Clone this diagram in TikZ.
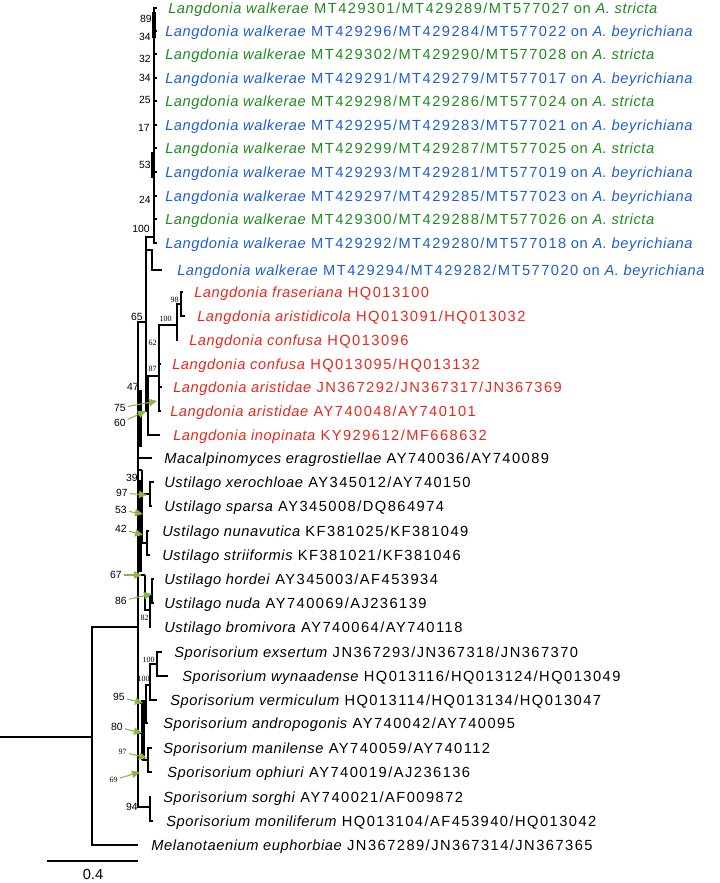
\documentclass[tikz,border=0pt]{standalone}
\usepackage{fontspec}
\setmainfont{Liberation Sans}
\newfontfamily\leaffont{Liberation Sans}[LetterSpace=4]
\newfontfamily\accfont{Liberation Sans}[LetterSpace=10]
\newfontfamily\bootserif{Liberation Serif}
\usetikzlibrary{arrows.meta}
\definecolor{hostgreen}{HTML}{1F8A1F}
\definecolor{hostblue}{HTML}{1F5ED2}
\definecolor{langred}{HTML}{E8281E}
\definecolor{bootgreen}{HTML}{8CB545}
\newcommand{\acc}[1]{{\accfont #1}}
\newcommand{\walk}[2]{\textit{Langdonia walkerae} \acc{#1} on \textit{A. #2}}
\newcommand{\taxon}[2]{\textit{#1} \acc{#2}}
\tikzset{
  branch/.style={line width=1.8pt},
  fatbranch/.style={line width=3.2pt},
  leaf/.style={anchor=west,inner sep=0pt,text height=7.9pt,text depth=0pt,font=\leaffont\fontsize{11}{13}\selectfont},
  bsans/.style={anchor=east,inner sep=0pt,font=\fontsize{7.8}{8}\selectfont},
  bserif/.style={anchor=east,inner sep=0pt,font=\bootserif\fontsize{6}{6}\selectfont},
  bootarrow/.style={bootgreen,line width=0.8pt,shorten <=1.5pt,-{Triangle[length=6pt,width=5.5pt]}},
}

\begin{document}
\begin{tikzpicture}[x=0.75pt,y=-0.75pt]
  \useasboundingbox (0,0) rectangle (720,883);

  % internal nodes
  \coordinate (base) at (0,737);
  \coordinate (root) at (92,737);
  \coordinate (ing) at (138,627);
  \coordinate (n65) at (146,322);
  \coordinate (w100) at (154,237);
  \coordinate (w12k) at (152,250);
  \coordinate (n87) at (148,411);
  \coordinate (n62) at (159,376);
  \coordinate (n100) at (177,325);
  \coordinate (n98) at (181,304);
  \coordinate (n47) at (142,470);
  \coordinate (u97) at (150,494);
  \coordinate (u42) at (147,543);
  \coordinate (u67) at (145,575);
  \coordinate (u82) at (150,610);
  \coordinate (u86) at (152,595);
  \coordinate (s95) at (146,703);
  \coordinate (s100b) at (150,685);
  \coordinate (s100a) at (157,664);
  \coordinate (s80) at (143,733);
  \coordinate (s97) at (148,760);
  \coordinate (s94) at (150,807);

  % branch tips
  \foreach \n/\y in {1/8,2/31,3/54,4/78,5/101,6/125,7/148,8/172,9/196,10/219,11/243}
    \coordinate (tw\n) at (157,\y);
  \coordinate (tw12) at (162,270);
  \foreach \n/\x/\y in {13/183/292,14/185/316,15/178/340,16/161/364,17/162/387,18/161/411,
      19/160/435,20/152/458,21/154/482,22/152/506,23/149/531,24/150/555,25/154/579,
      26/154/603,27/151/627,28/162/652,29/168/676,30/157/700,31/148/723,32/152/748,
      33/152/772,34/151/797,35/153/821,36/138/845}
    \coordinate (t\n) at (\x,\y);

  % tree
  \draw[branch] (base) -- (root);
  \draw[branch] (root) |- (ing);
  \draw[branch] (root) |- (t36);
  \draw[branch] (ing) |- (n65);
  \draw[branch] (n65) |- (w100);
  \foreach \i in {1,...,11}
    \draw[branch] (w100) |- (tw\i);
  \draw[branch] (n65) |- (w12k) |- (tw12);
  \draw[branch] (n65) |- (n87);
  \draw[branch] (n87) |- (n62);
  \draw[branch] (n87) |- (t19);
  \draw[branch] (n62) |- (n100);
  \foreach \i in {16,17,18}
    \draw[branch] (n62) |- (t\i);
  \draw[branch] (n100) |- (n98);
  \draw[branch] (n100) |- (t15);
  \draw[branch] (n98) |- (t13);
  \draw[branch] (n98) |- (t14);
  \draw[branch] (ing) |- (t20);
  \draw[branch] (ing) |- (n47);
  \draw[branch] (n47) |- (u97);
  \draw[branch] (n47) |- (u42);
  \draw[branch] (u97) |- (t21);
  \draw[branch] (u97) |- (t22);
  \draw[branch] (u42) |- (t23);
  \draw[branch] (u42) |- (t24);
  \draw[branch] (ing) |- (u67);
  \draw[branch] (u67) |- (u82);
  \draw[branch] (u82) |- (u86);
  \draw[branch] (u82) |- (t27);
  \draw[branch] (u86) |- (t25);
  \draw[branch] (u86) |- (t26);
  \draw[branch] (ing) |- (s95);
  \draw[branch] (s95) |- (s100b);
  \draw[branch] (s95) |- (t31);
  \draw[branch] (s100b) |- (s100a);
  \draw[branch] (s100b) |- (t30);
  \draw[branch] (s100a) |- (t28);
  \draw[branch] (s100a) |- (t29);
  \draw[branch] (ing) |- (s80);
  \draw[branch] (s80) |- (s97);
  \draw[branch] (s97) |- (t32);
  \draw[branch] (s97) |- (t33);
  \draw[branch] (ing) |- (s94);
  \draw[branch] (s94) |- (t34);
  \draw[branch] (s94) |- (t35);

  % collapsed short internodes drawn heavier
  \coordinate (lad1) at (154,12);
  \coordinate (lad2) at (154,38);
  \coordinate (lad3) at (153,152);
  \coordinate (lad4) at (153,178);
  \coordinate (sp1) at (140,390);
  \coordinate (sp2) at (140,447);
  \coordinate (sp3) at (140,480);
  \coordinate (sp4) at (140,572);
  \coordinate (sp5) at (143,700);
  \coordinate (sp6) at (143,760);
  \draw[fatbranch] (lad1) -- (lad2);
  \draw[fatbranch] (lad3) -- (lad4);
  \draw[fatbranch] (sp1) -- (sp2);
  \draw[fatbranch] (sp3) -- (sp4);
  \draw[fatbranch] (sp5) -- (sp6);

  % taxa
  \node[leaf,text=hostgreen] (lw1) at (168,8) {\walk{MT429301/MT429289/MT577027}{stricta}};
  \node[leaf,text=hostblue] (lw2) at (165,31) {\walk{MT429296/MT429284/MT577022}{beyrichiana}};
  \node[leaf,text=hostgreen] (lw3) at (165,54) {\walk{MT429302/MT429290/MT577028}{stricta}};
  \node[leaf,text=hostblue] (lw4) at (165,78) {\walk{MT429291/MT429279/MT577017}{beyrichiana}};
  \node[leaf,text=hostgreen] (lw5) at (165,101) {\walk{MT429298/MT429286/MT577024}{stricta}};
  \node[leaf,text=hostblue] (lw6) at (165,125) {\walk{MT429295/MT429283/MT577021}{beyrichiana}};
  \node[leaf,text=hostgreen] (lw7) at (165,148) {\walk{MT429299/MT429287/MT577025}{stricta}};
  \node[leaf,text=hostblue] (lw8) at (165,172) {\walk{MT429293/MT429281/MT577019}{beyrichiana}};
  \node[leaf,text=hostblue] (lw9) at (165,196) {\walk{MT429297/MT429285/MT577023}{beyrichiana}};
  \node[leaf,text=hostgreen] (lw10) at (165,219) {\walk{MT429300/MT429288/MT577026}{stricta}};
  \node[leaf,text=hostblue] (lw11) at (165,243) {\walk{MT429292/MT429280/MT577018}{beyrichiana}};
  \node[leaf,text=hostblue] (lw12) at (177,270) {\walk{MT429294/MT429282/MT577020}{beyrichiana}};
  \node[leaf,text=langred] (l13) at (194,292) {\taxon{Langdonia fraseriana}{HQ013100}};
  \node[leaf,text=langred] (l14) at (197,316) {\taxon{Langdonia aristidicola}{HQ013091/HQ013032}};
  \node[leaf,text=langred] (l15) at (189,340) {\taxon{Langdonia confusa}{HQ013096}};
  \node[leaf,text=langred] (l16) at (172,364) {\taxon{Langdonia confusa}{HQ013095/HQ013132}};
  \node[leaf,text=langred] (l17) at (173,387) {\taxon{Langdonia aristidae}{JN367292/JN367317/JN367369}};
  \node[leaf,text=langred] (l18) at (170,411) {\taxon{Langdonia aristidae}{AY740048/AY740101}};
  \node[leaf,text=langred] (l19) at (173,435) {\taxon{Langdonia inopinata}{KY929612/MF668632}};
  \node[leaf] (l20) at (164,458) {\taxon{Macalpinomyces eragrostiellae}{AY740036/AY740089}};
  \node[leaf] (l21) at (164,482) {\taxon{Ustilago xerochloae}{AY345012/AY740150}};
  \node[leaf] (l22) at (164,506) {\taxon{Ustilago sparsa}{AY345008/DQ864974}};
  \node[leaf] (l23) at (162,531) {\taxon{Ustilago nunavutica}{KF381025/KF381049}};
  \node[leaf] (l24) at (162,555) {\taxon{Ustilago striiformis}{KF381021/KF381046}};
  \node[leaf] (l25) at (164,579) {\taxon{Ustilago hordei}{AY345003/AF453934}};
  \node[leaf] (l26) at (164,603) {\taxon{Ustilago nuda}{AY740069/AJ236139}};
  \node[leaf] (l27) at (164,627) {\taxon{Ustilago bromivora}{AY740064/AY740118}};
  \node[leaf] (l28) at (174,652) {\taxon{Sporisorium exsertum}{JN367293/JN367318/JN367370}};
  \node[leaf] (l29) at (182,676) {\taxon{Sporisorium wynaadense}{HQ013116/HQ013124/HQ013049}};
  \node[leaf] (l30) at (170,700) {\taxon{Sporisorium vermiculum}{HQ013114/HQ013134/HQ013047}};
  \node[leaf] (l31) at (163,723) {\taxon{Sporisorium andropogonis}{AY740042/AY740095}};
  \node[leaf] (l32) at (163,748) {\taxon{Sporisorium manilense}{AY740059/AY740112}};
  \node[leaf] (l33) at (167,772) {\taxon{Sporisorium ophiuri}{AY740019/AJ236136}};
  \node[leaf] (l34) at (163,797) {\taxon{Sporisorium sorghi}{AY740021/AF009872}};
  \node[leaf] (l35) at (166,821) {\taxon{Sporisorium moniliferum}{HQ013104/AF453940/HQ013042}};
  \node[leaf] (l36) at (151,845) {\taxon{Melanotaenium euphorbiae}{JN367289/JN367314/JN367365}};

  % support values
  \node[bsans] (b89) at (152,19) {89};
  \node[bsans] (b34a) at (151,37) {34};
  \node[bsans] (b32) at (151,59) {32};
  \node[bsans] (b34b) at (151,78) {34};
  \node[bsans] (b25) at (151,100) {25};
  \node[bsans] (b17) at (150,128) {17};
  \node[bsans] (b53a) at (151,165) {53};
  \node[bsans] (b24) at (151,200) {24};
  \node[bsans] (b100w) at (150,229) {100};
  \node[bsans] (b65) at (143,317) {65};
  \node[bsans] (b47) at (139,387) {47};
  \node[bsans] (b39) at (138,478) {39};
  \node[bsans] (b94) at (138,807) {94};
  \node[bserif] (b98) at (179,300) {98};
  \node[bserif] (b100l) at (172,319) {100};
  \node[bserif] (b62) at (157,343) {62};
  \node[bserif] (b87) at (157,369) {87};
  \node[bserif] (b82) at (149,618) {82};
  \node[bserif] (b100s) at (155,660) {100};
  \node[bserif] (b100v) at (150,679) {100};

  % support values with pointers
  \coordinate (a75) at (157,401);
  \coordinate (a60) at (146,411);
  \coordinate (a97u) at (147,495);
  \coordinate (a53) at (143,514);
  \coordinate (a42) at (143,535);
  \coordinate (a67) at (142,575);
  \coordinate (a86) at (152,594);
  \coordinate (a95) at (143,703);
  \coordinate (a80) at (142,733);
  \coordinate (a97s) at (147,758);
  \coordinate (a69) at (140,772);
  \node[bsans] (b75) at (126,408) {75};
  \node[bsans] (b60) at (126,423) {60};
  \node[bsans] (b97u) at (128,493) {97};
  \node[bsans] (b53b) at (127,510) {53};
  \node[bsans] (b42) at (127,529) {42};
  \node[bsans] (b67) at (122,575) {67};
  \node[bsans] (b86) at (127,601) {86};
  \node[bsans] (b95) at (125,697) {95};
  \node[bsans] (b80) at (123,727) {80};
  \node[bserif] (b97s) at (127,752) {97};
  \node[bserif] (b69) at (118,780) {69};
  \draw[bootarrow] (b75) -- (a75);
  \draw[bootarrow] (b60) -- (a60);
  \draw[bootarrow] (b97u) -- (a97u);
  \draw[bootarrow] (b53b) -- (a53);
  \draw[bootarrow] (b42) -- (a42);
  \draw[bootarrow] (b67) -- (a67);
  \draw[bootarrow] (b86) -- (a86);
  \draw[bootarrow] (b95) -- (a95);
  \draw[bootarrow] (b80) -- (a80);
  \draw[bootarrow] (b97s) -- (a97s);
  \draw[bootarrow] (b69) -- (a69);

  % scale bar
  \coordinate (sbl) at (47,861);
  \coordinate (sbr) at (138,861);
  \draw[line width=1pt] (sbl) -- (sbr);
  \node[inner sep=0pt,font=\fontsize{11}{13}\selectfont] (sbt) at (93,874) {0.4};
\end{tikzpicture}
\end{document}
